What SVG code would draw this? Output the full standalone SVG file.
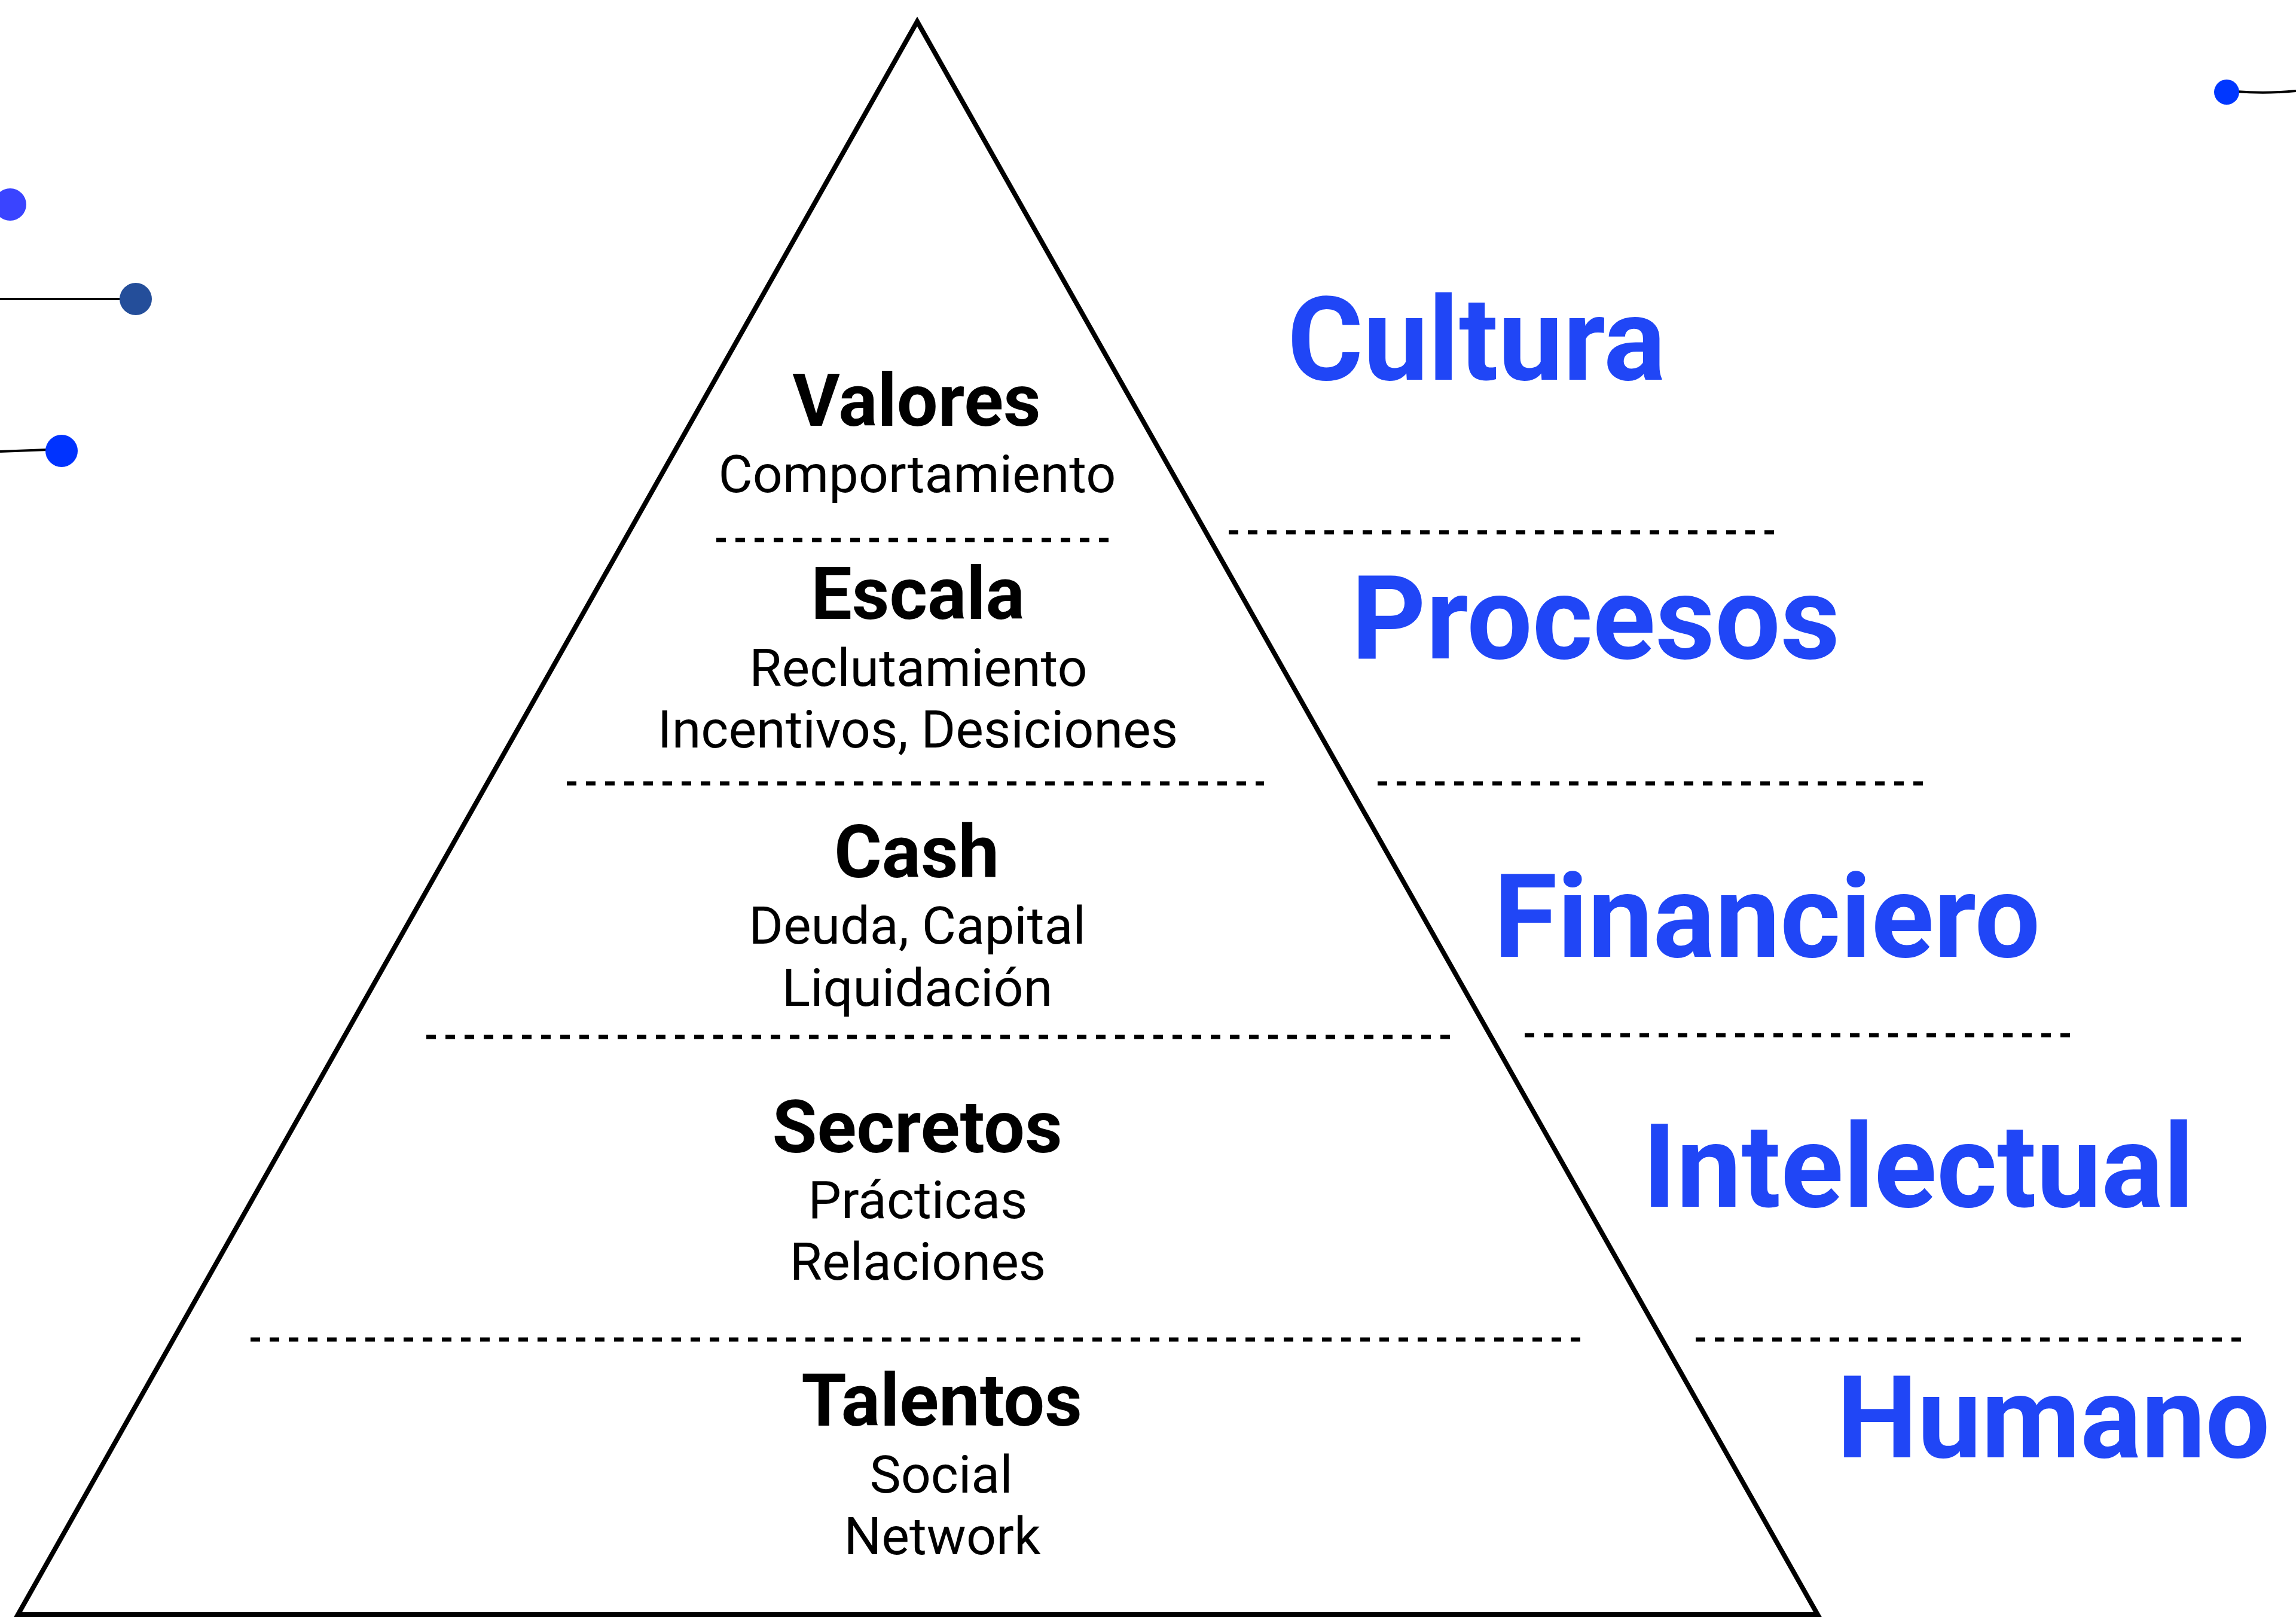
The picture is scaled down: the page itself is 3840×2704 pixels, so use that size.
<svg xmlns="http://www.w3.org/2000/svg" width="3840" height="2704" viewBox="0 0 3840 2704">
<style>
.bg{fill:#ffffff}
.tri{fill:none;stroke:#000;stroke-width:8;stroke-linejoin:miter}
.dash{stroke:#000;stroke-width:7;stroke-dasharray:16 16;fill:none}
.conn{stroke:#000;stroke-width:4;fill:none}
.h{font-family:Roboto,"Liberation Sans",sans-serif;font-weight:700;font-size:122px;fill:#000;text-anchor:middle}
.s{font-family:Roboto,"Liberation Sans",sans-serif;font-weight:400;font-size:88px;fill:#000;text-anchor:middle}
.b{font-family:Roboto,"Liberation Sans",sans-serif;font-weight:700;font-size:194px;fill:#2046F6}
</style>
<rect class="bg" x="0" y="0" width="3840" height="2704"/>
<g id="connectors">
  <line class="conn" x1="0" y1="500" x2="200" y2="500"/>
  <path class="conn" d="M0 755 L80 752"/>
  <path class="conn" d="M3740 153 Q3790 157 3840 152"/>
</g>
<g id="pyramid">
  <polygon class="tri" points="1534,36 30,2700 3040,2700"/>
</g>
<g id="dividers">
  <line class="dash" x1="1198" y1="903" x2="1869" y2="903"/>
  <line class="dash" x1="948" y1="1310" x2="2114" y2="1310"/>
  <line class="dash" x1="713" y1="1734" x2="2425" y2="1734"/>
  <line class="dash" x1="419" y1="2240" x2="2643" y2="2240"/>
  <line class="dash" x1="2055" y1="890" x2="2967" y2="890"/>
  <line class="dash" x1="2304" y1="1310" x2="3216" y2="1310"/>
  <line class="dash" x1="2550" y1="1731" x2="3462" y2="1731"/>
  <line class="dash" x1="2836" y1="2240" x2="3750" y2="2240"/>
</g>
<g id="dot1"><circle cx="17" cy="342" r="27" fill="#3A44FF"/></g>
<g id="dot2"><circle cx="227" cy="500" r="27" fill="#244E9A"/></g>
<g id="dot3"><circle cx="103" cy="754" r="27" fill="#0033FF"/></g>
<g id="dot4"><circle cx="3724" cy="154" r="21" fill="#0037FF"/></g>
<g id="valores">
  <text class="h" x="1533" y="712">Valores</text>
  <text class="s" x="1534" y="823">Comportamiento</text>
</g>
<g id="escala">
  <text class="h" x="1535" y="1035">Escala</text>
  <text class="s" x="1536" y="1147">Reclutamiento</text>
  <text class="s" x="1535" y="1250">Incentivos, Desiciones</text>
</g>
<g id="cash">
  <text class="h" x="1533" y="1467">Cash</text>
  <text class="s" x="1534" y="1578">Deuda, Capital</text>
  <text class="s" x="1534" y="1682">Liquidación</text>
</g>
<g id="secretos">
  <text class="h" x="1534" y="1927">Secretos</text>
  <text class="s" x="1535" y="2037">Prácticas</text>
  <text class="s" x="1535" y="2140">Relaciones</text>
</g>
<g id="talentos">
  <text class="h" x="1575" y="2384">Talentos</text>
  <text class="s" x="1574" y="2496">Social</text>
  <text class="s" x="1576" y="2599">Network</text>
</g>
<g id="cultura"><text class="b" x="2153" y="635">Cultura</text></g>
<g id="procesos"><text class="b" x="2260" y="1101">Procesos</text></g>
<g id="financiero"><text class="b" x="2498" y="1600">Financiero</text></g>
<g id="intelectual"><text class="b" x="2747" y="2018">Intelectual</text></g>
<g id="humano"><text class="b" x="3072" y="2437" style="font-size:191px">Humano</text></g>
</svg>
